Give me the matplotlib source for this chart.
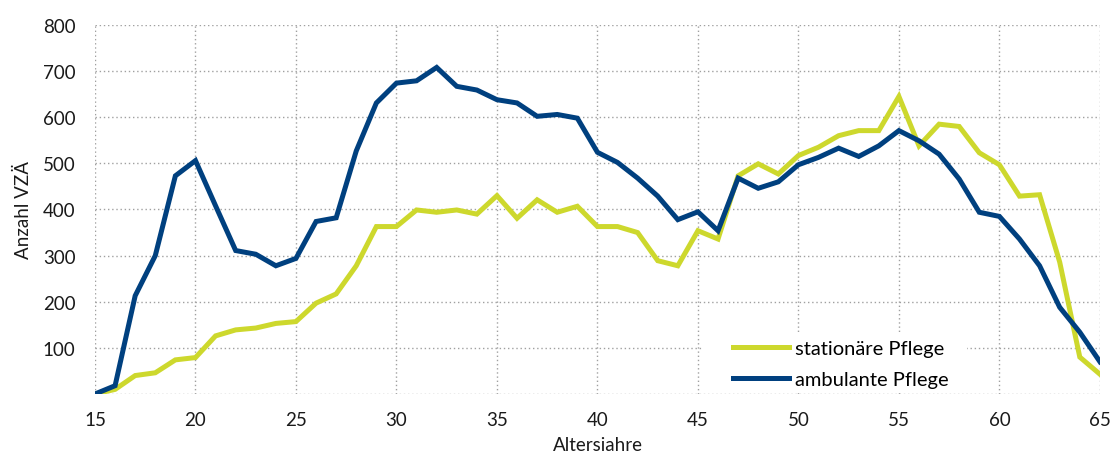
import numpy as np
import matplotlib
matplotlib.use('Agg')
import matplotlib.pyplot as plt
from matplotlib.patches import Rectangle

plt.rcParams['font.family'] = ['Lato', 'DejaVu Sans']

# Altersjahre 15..65
ages = list(range(15, 66))

stationaer = [0, 10, 40, 46, 74, 79, 126, 139, 143, 153,
              157, 197, 217, 278, 363, 363, 399, 394, 399, 390,
              430, 381, 421, 394, 407, 363, 363, 350, 289, 278,
              354, 336, 473, 499, 477, 517, 535, 560, 571, 571,
              645, 538, 585, 580, 523, 497, 429, 432, 286, 80,
              43]

ambulant = [0, 18, 213, 300, 473, 506, 408, 311, 303, 278,
            294, 374, 382, 527, 631, 674, 679, 708, 667, 659,
            638, 631, 602, 606, 598, 524, 502, 468, 429, 378,
            395, 354, 468, 446, 460, 497, 513, 533, 515, 538,
            571, 549, 520, 466, 394, 385, 336, 278, 188, 134,
            70]

green = '#cdd82d'
blue = '#00407f'
txt = '#1a1a1a'

fig = plt.figure(figsize=(11.11, 4.52), dpi=100)
ax = fig.add_axes([0.0855, 0.1261, 0.9045, 0.8164])

ax.plot(ages, stationaer, color=green, lw=3.6, solid_joinstyle='miter',
        label='stationäre Pflege', zorder=3)
ax.plot(ages, ambulant, color=blue, lw=3.6, solid_joinstyle='miter',
        label='ambulante Pflege', zorder=4)

ax.set_xlim(15, 65)
ax.set_ylim(0, 800)
ax.set_xticks(range(15, 66, 5))
ax.set_yticks(range(0, 801, 100))
ax.set_yticklabels([''] + [str(v) for v in range(100, 801, 100)])

for s in ax.spines.values():
    s.set_visible(False)
ax.grid(True, color='#a0a0a0', linestyle=(0, (1, 2)), lw=1.0, zorder=1)
ax.set_axisbelow(True)
ax.tick_params(length=0, labelsize=13.5, colors=txt, pad=14)
ax.tick_params(axis='x', pad=12)

ax.set_xlabel('Altersjahre', fontsize=13.5, color=txt, labelpad=6)
ax.set_ylabel('Anzahl VZÄ', fontsize=13.5, color=txt, labelpad=8)

# white box behind the legend hides the grid
ax.add_patch(Rectangle((0.605, 0.005), 0.263, 0.158, transform=ax.transAxes,
                       facecolor='white', edgecolor='none', zorder=2))
leg = ax.legend(loc='upper left', bbox_to_anchor=(0.635, 0.147), frameon=False,
                fontsize=14.5, handlelength=2.8, handletextpad=0.25,
                borderpad=0, labelspacing=0.7, borderaxespad=0)
leg.set_zorder(5)

fig.savefig('out.png', dpi=100)
